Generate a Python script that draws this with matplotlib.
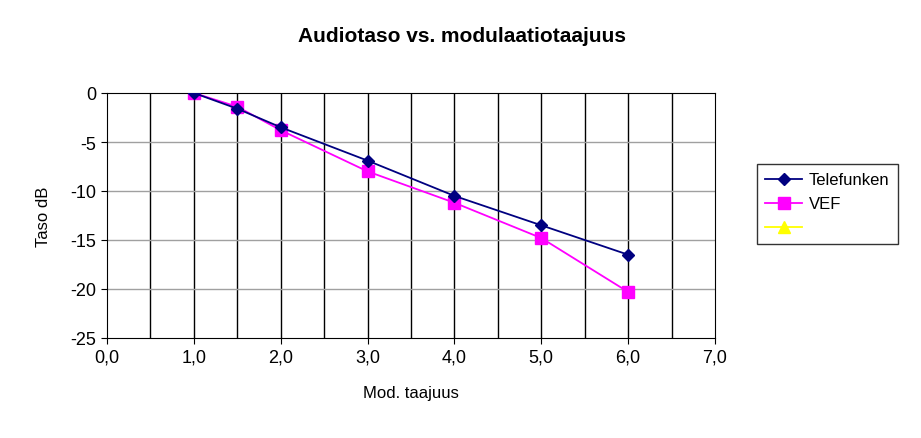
import matplotlib
matplotlib.use("Agg")
import matplotlib.pyplot as plt
import numpy as np

freq = [1.0, 1.5, 2.0, 3.0, 4.0, 5.0, 6.0]
telefunken = [0, -1.6, -3.5, -6.9, -10.5, -13.5, -16.5]
vef = [0, -1.4, -3.8, -8.0, -11.2, -14.8, -20.3]
x_labels = ["0,0", "1,0", "2,0", "3,0", "4,0", "5,0", "6,0", "7,0"]

plt.rcParams["font.family"] = ["Liberation Sans", "DejaVu Sans"]
plt.rcParams["axes.unicode_minus"] = False
W, H = 921, 439
fig = plt.figure(figsize=(W / 100, H / 100), dpi=100)
ax = fig.add_axes([107 / W, 1 - 339 / H, (715 - 107) / W, (339 - 94) / H])

for xv in np.arange(0.5, 7.0, 0.5):
    ax.axvline(xv, color="black", lw=1, zorder=1)
for yv in [-5, -10, -15, -20]:
    ax.axhline(yv, color="#a0a0a0", lw=1, zorder=1)

ax.plot(freq, telefunken, color="#000080", marker="D", markersize=6, lw=1.3, label="Telefunken", zorder=3)
ax.plot(freq, vef, color="#ff00ff", marker="s", markersize=8, lw=1.3, label="VEF", zorder=2)
ax.plot([], [], color="#ffff00", marker="^", markersize=8, lw=1.3, label=" ")

ax.set_xlim(0, 7)
ax.set_ylim(-25, 0)
ax.set_xticks(range(8))
ax.set_xticklabels(x_labels)
ax.set_yticks(range(-25, 1, 5))
ax.tick_params(labelsize=13, length=4, direction="out")
for s in ax.spines.values():
    s.set_color("black")
ax.set_xlabel("Mod. taajuus", fontsize=12, labelpad=14)
ax.set_ylabel("Taso dB", fontsize=12, labelpad=14)

fig.text(462 / W, 1 - 37 / H, "Audiotaso vs. modulaatiotaajuus", ha="center", va="center",
         fontsize=15, fontweight="bold")

leg = fig.legend(loc="upper left", bbox_to_anchor=(757 / W, 1 - 165 / H), fontsize=12,
                 frameon=True, fancybox=False, edgecolor="black", borderpad=0.5,
                 handlelength=2.2, handletextpad=0.4, labelspacing=0.55, borderaxespad=0)
leg.get_frame().set_linewidth(1)

fig.savefig("out.png", dpi=100)
